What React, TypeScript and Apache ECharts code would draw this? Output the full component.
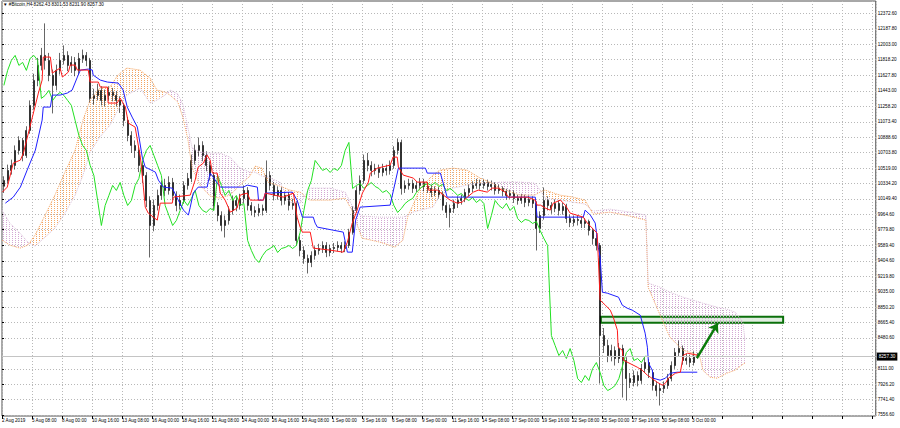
import React, { useEffect, useRef } from 'react';
import * as echarts from 'echarts';

// ---- data ----
const titleText = '▼ #Bitcoin,H4 8262.43 8301.53 8231.90 8257.30';
const xTickLabels = [
  '2 Aug 2019', '5 Aug 08:00', '8 Aug 00:00', '10 Aug 16:00', '13 Aug 08:00', '16 Aug 00:00',
  '18 Aug 16:00', '21 Aug 08:00', '24 Aug 00:00', '26 Aug 16:00', '29 Aug 08:00', '1 Sep 00:00',
  '3 Sep 16:00', '6 Sep 08:00', '9 Sep 00:00', '11 Sep 16:00', '14 Sep 08:00', '17 Sep 00:00',
  '19 Sep 16:00', '22 Sep 08:00', '25 Sep 00:00', '27 Sep 16:00', '30 Sep 08:00', '3 Oct 00:00',
];
const yTickValues = [
  12372.6, 12187.8, 12003.0, 11818.2, 11627.8, 11443.0, 11258.2, 11073.4, 10888.6, 10703.8,
  10519.0, 10334.2, 10149.4, 9964.6, 9779.8, 9589.4, 9404.6, 9219.8, 9035.0, 8850.2, 8665.4,
  8480.6, 8111.0, 7926.2, 7741.4, 7556.6,
];
// [open, close, low, high]
const candles: number[][] = [
  [10300,10370,10220,10420],[10370,10490,10330,10560],[10490,10550,10440,10620],[10550,10730,10500,10790],
  [10730,10850,10680,10900],[10850,10670,10600,10880],[10670,10970,10640,11020],[10970,11270,10930,11330],
  [11270,11570,11220,11650],[11570,11750,11500,11840],[11750,11870,11690,11960],[11870,11810,11700,12254],
  [11810,11630,11560,11900],[11630,11510,11174,11700],[11510,11690,11450,11760],[11690,11810,11640,11900],
  [11810,11870,11760,11990],[11870,11750,11680,11920],[11750,11786,11660,11860],[11786,11690,11620,11850],
  [11690,11834,11640,11900],[11834,11870,11780,11940],[11870,11810,11740,11910],[11810,11354,11300,11840],
  [11354,11390,11280,11470],[11390,11450,11330,11530],[11450,11330,11270,11500],[11330,11390,11260,11460],
  [11390,11426,11330,11500],[11426,11390,11320,11480],[11390,11330,11260,11440],[11330,11270,11180,11380],
  [11270,11090,11020,11300],[11090,10910,10840,11130],[10910,10790,10700,10960],[10790,10730,10640,10850],
  [10730,10550,10470,10780],[10550,10430,10340,10600],[10430,10130,10050,10470],[10130,9830,9446,10180],
  [9830,10070,9760,10140],[10070,10190,10010,10260],[10190,10310,10140,10370],[10310,10250,10180,10390],
  [10250,10346,10200,10420],[10346,10190,10130,10400],[10190,10070,10000,10240],[10070,10130,10020,10200],
  [10130,10310,10090,10360],[10310,10394,10260,10460],[10394,10610,10350,10680],[10610,10730,10560,10800],
  [10730,10790,10660,10886],[10790,10670,10600,10840],[10670,10550,10480,10720],[10550,10430,10370,10600],
  [10430,10070,10010,10470],[10070,9950,9880,10110],[9950,9830,9760,10000],[9830,9890,9686,9950],
  [9890,10010,9840,10060],[10010,10130,9960,10190],[10130,10070,10000,10180],[10070,10154,10020,10210],
  [10154,10250,10100,10310],[10250,10070,10010,10290],[10070,10010,9950,10110],[10010,9986,9930,10060],
  [9986,10034,9940,10090],[10034,10010,9950,10080],[10010,10430,9980,10610],[10430,10310,10250,10480],
  [10310,10190,10130,10350],[10190,10250,10140,10300],[10250,10130,10070,10290],[10130,10190,10080,10240],
  [10190,10070,10010,10230],[10070,10094,10020,10150],[10094,9650,9590,10120],[9650,9530,9460,9700],
  [9530,9434,9370,9580],[9434,9386,9254,9480],[9386,9470,9330,9520],[9470,9530,9420,9580],
  [9530,9554,9480,9610],[9554,9590,9500,9640],[9590,9506,9450,9630],[9506,9554,9460,9600],
  [9554,9566,9500,9620],[9566,9590,9520,9640],[9590,9554,9500,9630],[9554,9590,9510,9640],
  [9590,9746,9560,9790],[9746,10010,9720,10060],[10010,10250,9980,10300],[10250,10370,10200,10430],
  [10370,10610,10330,10680],[10610,10550,10480,10700],[10550,10490,10420,10600],[10490,10514,10440,10570],
  [10514,10466,10400,10560],[10466,10514,10420,10570],[10514,10490,10430,10560],[10490,10550,10440,10610],
  [10550,10730,10510,10780],[10730,10826,10680,10874],[10826,10274,10200,10860],[10274,10310,10220,10370],
  [10310,10334,10260,10390],[10334,10274,10220,10380],[10274,10310,10230,10360],[10310,10346,10260,10400],
  [10346,10298,10240,10390],[10298,10274,10220,10350],[10274,10226,10170,10320],[10226,10250,10180,10300],
  [10250,10202,10150,10290],[10202,10070,10010,10240],[10070,9986,9920,10110],[9986,10034,9806,10080],
  [10034,10094,9980,10140],[10094,10130,10040,10180],[10130,10154,10080,10200],[10154,10226,10110,10270],
  [10226,10274,10180,10320],[10274,10310,10230,10360],[10310,10334,10270,10390],[10334,10310,10260,10380],
  [10310,10346,10270,10390],[10346,10298,10250,10380],[10298,10322,10250,10370],[10322,10250,10200,10350],
  [10250,10274,10210,10320],[10274,10238,10180,10300],[10238,10190,10140,10270],[10190,10214,10150,10260],
  [10214,10154,10100,10250],[10154,10130,10080,10200],[10130,10166,10090,10210],[10166,10106,10050,10200],
  [10106,10142,10060,10190],[10142,10094,10040,10180],[10094,9794,9530,10120],[9794,9950,9740,10000],
  [9950,10130,9900,10286],[10130,10070,10010,10180],[10070,10034,9970,10110],[10034,10094,9990,10140],
  [10094,10010,9950,10130],[10010,10058,9960,10100],[10058,9914,9860,10090],[9914,9866,9810,9960],
  [9866,9902,9820,9950],[9902,9890,9830,9950],[9890,9854,9800,9930],[9854,9878,9800,9920],
  [9878,9770,9710,9900],[9770,9674,9600,9800],[9674,9590,9530,9720],[9590,8510,7934,9620],
  [8510,8390,8300,8600],[8390,8270,8190,8460],[8270,8330,8200,8400],[8330,8234,8150,8380],
  [8234,8354,8180,8420],[8354,8210,7766,8400],[8210,7994,7730,8250],[7994,7946,7880,8060],
  [7946,8030,7900,8090],[8030,7970,7900,8080],[7970,8114,7930,8170],[8114,8186,8060,8250],
  [8186,8066,8000,8230],[8066,7910,7850,8100],[7910,7850,7780,7960],[7850,7874,7670,7930],
  [7874,7910,7820,7960],[7910,7994,7870,8050],[7994,8150,7960,8200],[8150,8306,8110,8360],
  [8306,8354,8260,8450],[8354,8210,8160,8390],[8210,8234,8160,8290],[8234,8186,8130,8280],
  [8186,8262,8150,8320],[8262.43,8257.30,8231.90,8301.53],
];
// Tenkan-sen (red): [bar position, price]
const tenkan: number[][] = [
  [0.1,10230],[1.4,10290],[3.0,10578],[4.9,10614],[5.7,10698],[8.1,11130],[9.7,11418],[10.7,11574],
  [11.0,11850],[12.9,11850],[13.4,11658],[15.5,11718],[16.1,11610],[17.7,11670],[18.2,11754],[19.5,11754],
  [20.1,11694],[23.0,11694],[23.5,11550],[25.7,11550],[26.2,11490],[28.1,11490],[28.3,11298],[30.7,11298],
  [31.5,11358],[32.9,11250],[33.7,11058],[35.5,11010],[36.1,10854],[36.9,10650],[37.7,10290],[38.2,10050],
  [39.0,9978],[41.4,9894],[42.2,10098],[45.4,10098],[45.7,10170],[50.2,10194],[51.5,10374],[52.3,10530],
  [53.7,10578],[54.7,10674],[55.5,10614],[56.1,10458],[57.4,10458],[58.2,10218],[59.5,10134],[60.9,9990],
  [62.7,10038],[63.5,10194],[65.4,10218],[66.2,10134],[69.7,10134],[70.2,10218],[75.0,10170],[77.7,10218],
  [78.7,9930],[79.5,9810],[80.1,9750],[82.2,9750],[83.0,9558],[87.5,9534],[91.0,9510],[92.1,9630],
  [93.4,9858],[94.7,10014],[96.1,10218],[97.7,10350],[98.2,10458],[100.1,10518],[103.5,10554],[104.3,10650],
  [105.4,10650],[105.7,10530],[107.0,10434],[109.7,10398],[110.7,10350],[113.4,10350],[113.7,10254],[116.1,10254],
  [117.7,10194],[119.5,10134],[121.4,10098],[122.7,10110],[124.1,10170],[125.7,10230],[127.0,10254],[129.4,10230],
  [130.7,10278],[132.3,10278],[134.2,10230],[135.0,10170],[140.1,10170],[142.2,10134],[142.7,10074],[143.6,10074],
  [144.9,10038],[146.2,10014],[147.0,10098],[148.9,10134],[150.2,10074],[151.5,9978],[155.0,9930],[156.1,9858],
  [157.4,9798],[158.7,9738],[159.0,9450],[159.5,8934],[160.9,8874],[162.2,8814],[163.0,8730],[164.1,8574],
  [164.3,8370],[165.4,8334],[165.7,8214],[169.4,8130],[170.7,8094],[172.1,8034],[172.9,8010],[174.7,7950],
  [176.1,7914],[176.9,7938],[177.7,7998],[179.6,8058],[180.9,8070],[181.7,8274],[182.8,8298],[185.4,8274],
];
// Kijun-sen (blue)
const kijun: number[][] = [
  [0.9,10098],[3.0,10170],[4.9,10290],[6.7,10494],[8.9,10734],[10.7,11094],[11.0,11250],[12.9,11250],
  [13.4,11394],[15.5,11394],[17.4,11418],[18.7,11454],[20.1,11610],[20.9,11694],[23.0,11706],[24.1,11694],
  [24.3,11634],[26.2,11574],[28.1,11550],[31.0,11538],[32.3,11454],[33.4,11250],[34.7,11130],[36.1,11010],
  [37.4,10650],[38.2,10530],[40.9,10470],[41.7,10374],[43.0,10290],[45.4,10278],[47.0,10134],[48.4,10014],
  [49.7,9954],[50.2,10050],[51.0,10218],[52.3,10290],[54.7,10290],[55.5,10458],[56.3,10410],[57.4,10338],
  [58.2,10290],[64.4,10290],[65.4,10314],[68.1,10290],[68.4,10134],[69.7,10134],[70.2,10218],[77.4,10230],
  [78.7,10134],[80.1,9930],[83.0,9930],[83.5,9858],[84.1,9810],[91.0,9750],[92.1,9510],[93.4,9510],
  [94.3,9894],[95.5,10050],[103.5,10074],[105.7,10518],[112.9,10518],[113.4,10458],[116.9,10458],[118.7,10170],
  [142.2,10170],[142.7,9930],[155.0,9930],[155.5,10014],[156.9,9954],[158.2,9858],[159.0,9570],[159.5,9450],
  [160.1,9030],[161.4,9018],[164.4,8970],[165.4,8874],[166.7,8838],[168.1,8814],[170.2,8754],[171.5,8538],
  [172.1,8370],[172.4,8178],[173.4,8094],[173.7,7998],[175.5,7974],[176.9,7998],[178.2,8058],[180.1,8070],
  [185.4,8070],
];
// Kumo: [bar position, Senkou Span A, Senkou Span B]
const cloud: number[][] = [
  [0.0,9654,10014],[2.1,9594,9858],[4.8,9558,9738],[6.9,9594,9630],[8.8,9714,9582],[11.5,9954,9690],
  [14.1,10194,9798],[16.8,10470,9978],[19.5,10734,10194],[21.6,11094,10434],[23.5,11334,10710],[26.1,11478,10890],
  [28.8,11490,11034],[30.9,11634,11214],[33.3,11718,11394],[36.8,11694,11478],[39.5,11598,11298],[41.3,11454,11334],
  [43.5,11430,11394],[44.8,11394,11454],[46.9,11310,11406],[48.3,11118,11274],[49.6,10854,10998],[50.7,10518,10758],
  [52.8,10314,10710],[55.5,10182,10698],[58.1,10158,10698],[60.8,10194,10650],[63.5,10314,10518],[66.1,10422,10470],
  [67.5,10542,10470],[69.3,10518,10422],[70.9,10350,10410],[74.1,10302,10350],[76.8,10254,10110],[79.5,10230,10098],
  [82.1,10134,10278],[87.5,10134,10278],[91.5,10158,10230],[93.3,10014,10074],[96.0,9678,9942],[100.8,9630,9930],
  [104.8,9570,9930],[106.9,9654,9930],[108.3,9954,9954],[109.6,10074,9990],[111.5,10278,10014],[114.9,10434,10050],
  [116.8,10494,10194],[120.3,10518,10278],[124.0,10494,10314],[127.5,10398,10338],[130.7,10338,10338],[132.8,10278,10350],
  [138.1,10194,10350],[142.1,10194,10338],[143.5,10230,10254],[144.8,10254,10158],[148.8,10194,10134],[152.3,10170,10110],
  [155.5,10134,10086],[157.6,9966,10002],[162.1,9990,10026],[167.5,9942,9990],[171.7,9894,9954],[172.3,9090,9138],
  [175.5,8754,9090],[178.1,8490,9030],[181.6,8334,8970],[184.3,8298,8934],[186.1,8250,8910],[186.9,8094,8898],
  [188.8,8010,8874],[190.7,7998,8850],[193.3,8058,8826],[195.5,8094,8790],[197.6,8166,8670],[198.1,8178,8454],
];
const CHIKOU_SHIFT = 13;
const lastPrice = [8257.3];
const zoneX = [159.7, 208.3];
const zonePrice = [8736, 8664];
const arrowX = [185.3, 190.9];
const arrowPrice = [8238, 8658];
const N_SLOTS = 233;

const FONT = 'Liberation Sans, Arial, sans-serif';

function dotPattern(color: string) {
  const c = document.createElement('canvas');
  c.width = 3;
  c.height = 2;
  const ctx = c.getContext('2d')!;
  ctx.fillStyle = color;
  ctx.fillRect(0, 0, 1, 1);
  return { image: c.toDataURL(), repeat: 'repeat', imageWidth: 3, imageHeight: 2 } as any;
}

export default function App() {
  const ref = useRef<HTMLDivElement>(null);
  useEffect(() => {
    document.body.style.margin = '0';
    const chart = echarts.init(ref.current!, null, { renderer: 'svg' });
    const categories = Array.from({ length: N_SLOTS }, (_, i) => String(i));
    const chikou = candles.slice(CHIKOU_SHIFT).map((c, i) => [i + 0.5, c[1]]);
    const orangeFill = dotPattern('#f4a460');
    const pinkFill = dotPattern('#d2a6d2');

    chart.setOption({
      animation: false,
      backgroundColor: '#ffffff',
      grid: {
        left: 2, right: 24.25, top: 1, bottom: 12,
        show: true, borderColor: '#505050', borderWidth: 1, backgroundColor: '#fff',
        outerBoundsMode: 'none',
      },
      graphic: [
        {
          type: 'text', left: 3, top: 2, z: 100,
          style: { text: titleText, fontSize: 4.6, fill: '#000', fontFamily: FONT },
        },
      ],
      xAxis: [
        { type: 'category', data: categories, show: false, boundaryGap: true },
        {
          type: 'value', min: 0, max: N_SLOTS, interval: 8, position: 'bottom',
          axisLine: { show: false },
          axisTick: { show: true, length: 3, lineStyle: { color: '#000', width: 1 } },
          axisLabel: {
            fontSize: 4.6, fontFamily: FONT, color: '#000', align: 'left', margin: 2,
            showMaxLabel: false,
            formatter: (v: number) => {
              const k = Math.round(v / 8);
              return k < xTickLabels.length ? xTickLabels[k] : '';
            },
          },
          splitLine: { show: true, lineStyle: { color: '#b8b8b8', type: [1, 2], width: 1 } },
        },
      ],
      yAxis: {
        type: 'value', position: 'right', min: 7544.6, max: 12522.5, scale: true,
        axisLine: { show: false },
        axisTick: { show: true, length: 2, customValues: yTickValues, lineStyle: { color: '#000' } },
        axisLabel: {
          customValues: yTickValues, fontSize: 4.6, fontFamily: FONT, color: '#000', margin: 2,
          formatter: (v: number) => v.toFixed(2),
        },
        splitLine: { show: true, lineStyle: { color: '#b8b8b8', type: [1, 2], width: 1 } },
      },
      series: [
        {
          type: 'custom', xAxisIndex: 1, yAxisIndex: 0, silent: true, clip: true,
          data: cloud,
          encode: { x: 0, y: [1, 2] },
          renderItem: (params: any, api: any) => {
            const i = params.dataIndex;
            if (i >= cloud.length - 1) return null;
            const p0 = cloud[i];
            const p1 = cloud[i + 1];
            const a0 = api.coord([p0[0], p0[1]]);
            const b0 = api.coord([p0[0], p0[2]]);
            const a1 = api.coord([p1[0], p1[1]]);
            const b1 = api.coord([p1[0], p1[2]]);
            const bull = (p0[1] - p0[2]) + (p1[1] - p1[2]) >= 0;
            return {
              type: 'polygon',
              shape: { points: [a0, a1, b1, b0] },
              style: { fill: bull ? orangeFill : pinkFill, stroke: null },
            };
          },
        },
        {
          type: 'line', xAxisIndex: 1, symbol: 'none', silent: true,
          data: cloud.map((p) => [p[0], p[1]]),
          lineStyle: { color: '#f4a460', width: 1, type: [1, 1] },
        },
        {
          type: 'line', xAxisIndex: 1, symbol: 'none', silent: true,
          data: cloud.map((p) => [p[0], p[2]]),
          lineStyle: { color: '#d8bfd8', width: 1, type: [1, 1] },
        },
        {
          type: 'candlestick', xAxisIndex: 0, yAxisIndex: 0, barWidth: 1.6,
          data: candles,
          itemStyle: { color: '#000', color0: '#000', borderColor: '#000', borderColor0: '#000', borderWidth: 0.6 },
          markLine: {
            silent: true, symbol: 'none', animation: false,
            lineStyle: { color: '#c4c4c4', type: 'solid', width: 1 },
            label: {
              position: 'end', distance: 1, formatter: lastPrice[0].toFixed(2),
              backgroundColor: '#000', color: '#fff', fontSize: 4.6, fontFamily: FONT, padding: [2, 2, 1, 2],
            },
            data: [{ yAxis: lastPrice[0] }],
          },
        },
        {
          type: 'line', xAxisIndex: 1, symbol: 'none', silent: true, data: chikou,
          lineStyle: { color: '#22e022', width: 1 },
        },
        {
          type: 'line', xAxisIndex: 1, symbol: 'none', silent: true, data: kijun,
          lineStyle: { color: '#1f1fff', width: 1 },
        },
        {
          type: 'line', xAxisIndex: 1, symbol: 'none', silent: true, data: tenkan,
          lineStyle: { color: '#ff1a1a', width: 1 },
        },
        {
          type: 'line', xAxisIndex: 1, symbol: 'none', silent: true, data: [],
          markArea: {
            silent: true,
            itemStyle: { color: 'rgba(222,236,222,0.9)', borderColor: '#0b700b', borderWidth: 2 },
            data: [[{ coord: [zoneX[0], zonePrice[0]] }, { coord: [zoneX[1], zonePrice[1]] }]],
          },
          markLine: {
            silent: true, symbol: ['none', 'arrow'], symbolSize: 9,
            lineStyle: { color: '#0b7a0b', width: 2.5, type: 'solid' },
            label: { show: false },
            data: [[{ coord: [arrowX[0], arrowPrice[0]] }, { coord: [arrowX[1], arrowPrice[1]] }]],
          },
        },
      ],
    });
    return () => chart.dispose();
  }, []);
  return (
    <div
      ref={ref}
      style={{ position: 'fixed', left: 0, top: 0, width: 900, height: 428, background: '#fff' }}
    />
  );
}
